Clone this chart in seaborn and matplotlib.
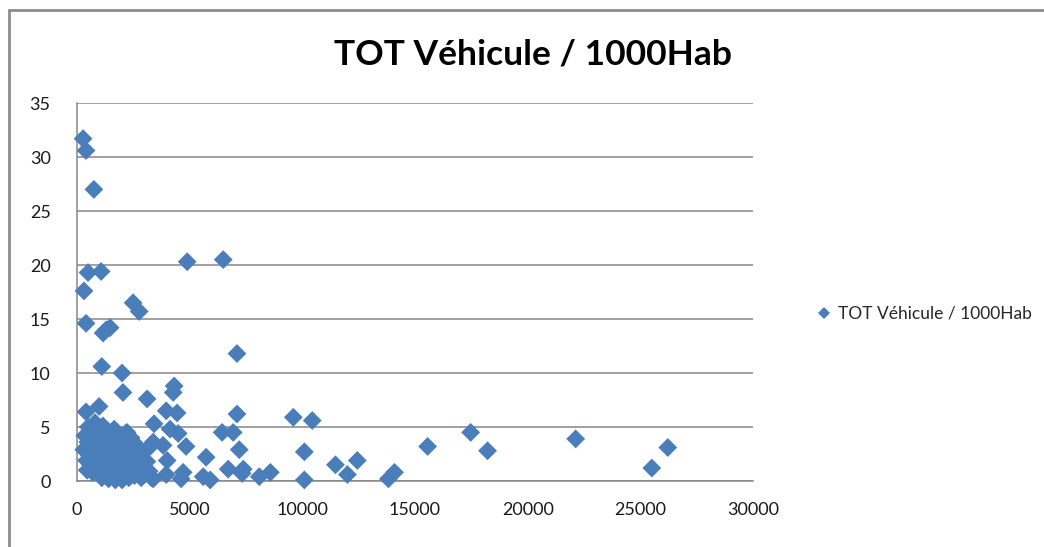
import matplotlib
matplotlib.use("Agg")
import matplotlib.pyplot as plt
from matplotlib.lines import Line2D
import seaborn as sns
import pandas as pd

title = "TOT Véhicule / 1000Hab"

# Population (x) and vehicles per 1000 inhabitants (y)
pop = [
    270, 400, 750, 490, 1070, 310, 400, 1160, 1470, 1300,
    1100, 2000, 2040, 2490, 2760, 4890, 6490, 7100, 3110, 4310,
    4270, 980, 400, 3960, 4440, 7100, 9600, 10440, 3420, 4130,
    4490, 6440, 6930, 4840, 7200, 10090, 5730, 4000, 6710, 7380,
    7330, 8580, 8090, 10090, 11470, 12000, 12440, 5600, 5910, 4710,
    4620, 3960, 3380, 13820, 14090, 15560, 17470, 18220, 22130, 26220,
    25510, 3820, 2220, 3380,
    300, 350, 420, 480, 500, 560, 600, 650, 700, 750,
    800, 820, 880, 900, 950, 1000, 1020, 1080, 1100, 1150,
    1200, 1250, 1300, 1320, 1400, 1450, 1500, 1550, 1600, 1650,
    1700, 1750, 1800, 1850, 1900, 1950, 2000, 2050, 2100, 2150,
    2200, 2250, 2300, 2350, 2400, 2450, 2500, 2550, 2600, 2650,
    2700, 2750, 2800, 2850, 2900, 2950, 3000, 3100, 3150, 3200,
    3300, 1100, 1400, 1700, 2000, 700, 450,
]
vehicles = [
    31.7, 30.6, 27.0, 19.3, 19.4, 17.6, 14.6, 13.7, 14.2, 14.0,
    10.6, 10.0, 8.2, 16.5, 15.7, 20.3, 20.5, 11.8, 7.6, 8.8,
    8.2, 6.9, 6.4, 6.5, 6.3, 6.2, 5.9, 5.6, 5.3, 4.8,
    4.4, 4.5, 4.5, 3.2, 2.9, 2.7, 2.2, 1.9, 1.1, 1.1,
    0.7, 0.8, 0.4, 0.1, 1.5, 0.6, 1.9, 0.4, 0.1, 0.8,
    0.2, 0.6, 0.2, 0.2, 0.8, 3.2, 4.5, 2.8, 3.9, 3.1,
    1.2, 3.3, 4.5, 3.6,
    2.9, 4.2, 1.9, 3.6, 5.0, 2.4, 1.5, 4.6, 3.1, 2.0,
    5.4, 1.2, 3.8, 2.6, 1.6, 4.9, 0.9, 3.3, 2.2, 5.1,
    1.3, 3.9, 0.6, 2.8, 4.4, 1.8, 3.4, 0.8, 2.5, 4.8,
    1.1, 3.7, 0.4, 2.0, 4.1, 1.5, 3.0, 0.7, 2.4, 4.4,
    1.2, 3.6, 0.3, 2.0, 4.0, 1.0, 2.8, 0.5, 3.4, 1.6,
    2.3, 0.9, 1.9, 0.3, 2.6, 1.2, 0.6, 1.8, 3.0, 0.9,
    0.3, 0.3, 0.2, 0.1, 0.1, 0.8, 1.0,
]

x_ticks = [0, 5000, 10000, 15000, 20000, 25000, 30000]
y_ticks = [0, 5, 10, 15, 20, 25, 30, 35]

df = pd.DataFrame({"pop": pop, "veh": vehicles})

sns.set_style("white")
plt.rcParams["font.family"] = ["Lato", "DejaVu Sans"]

blue = "#4A7EBB"
grid_gray = "#868686"

fig = plt.figure(figsize=(10.44, 5.47), dpi=100)
ax = fig.add_axes([77 / 1044, 1 - 481 / 547, (753 - 77) / 1044, (481 - 103) / 547])

sns.scatterplot(data=df, x="pop", y="veh", marker="D", s=92, color=blue,
                edgecolor="none", linewidth=0, ax=ax, legend=False, zorder=3)

ax.set_xlim(0, 30000)
ax.set_ylim(0, 35)
ax.set_xticks(x_ticks)
ax.set_yticks(y_ticks)
ax.set_xlabel("")
ax.set_ylabel("")
ax.grid(axis="y", color=grid_gray, linewidth=1.1)
ax.set_axisbelow(True)
for side in ("top", "right"):
    ax.spines[side].set_visible(False)
for side in ("left", "bottom"):
    ax.spines[side].set_color(grid_gray)
    ax.spines[side].set_linewidth(1.1)
ax.tick_params(axis="both", which="both", direction="out", length=7, width=1.1,
               color=grid_gray, labelsize=13, labelcolor="#1a1a1a")
ax.tick_params(axis="y", pad=12)
ax.tick_params(axis="x", pad=8)
for coll in ax.collections:
    coll.set_clip_on(False)

fig.text(533 / 1044, 1 - 54 / 547, title, ha="center", va="center",
         fontsize=25.5, fontweight="bold", color="black")

handle = Line2D([], [], marker="D", linestyle="none", color=blue,
                markersize=6, markeredgewidth=0)
fig.legend([handle], [title], loc="center left",
           bbox_to_anchor=(808 / 1044, 1 - 314 / 547), frameon=False,
           fontsize=12.5, handletextpad=0.3, handlelength=1.0, borderaxespad=0)

# chart frame
frame_kw = dict(color="#8c8c8c", linewidth=2, transform=fig.transFigure)
fig.add_artist(Line2D([9 / 1044, 1.0], [1 - 10 / 547, 1 - 10 / 547], **frame_kw))
fig.add_artist(Line2D([9 / 1044, 9 / 1044], [0.0, 1 - 10 / 547], **frame_kw))

fig.savefig("out.png", dpi=100, facecolor="white")
